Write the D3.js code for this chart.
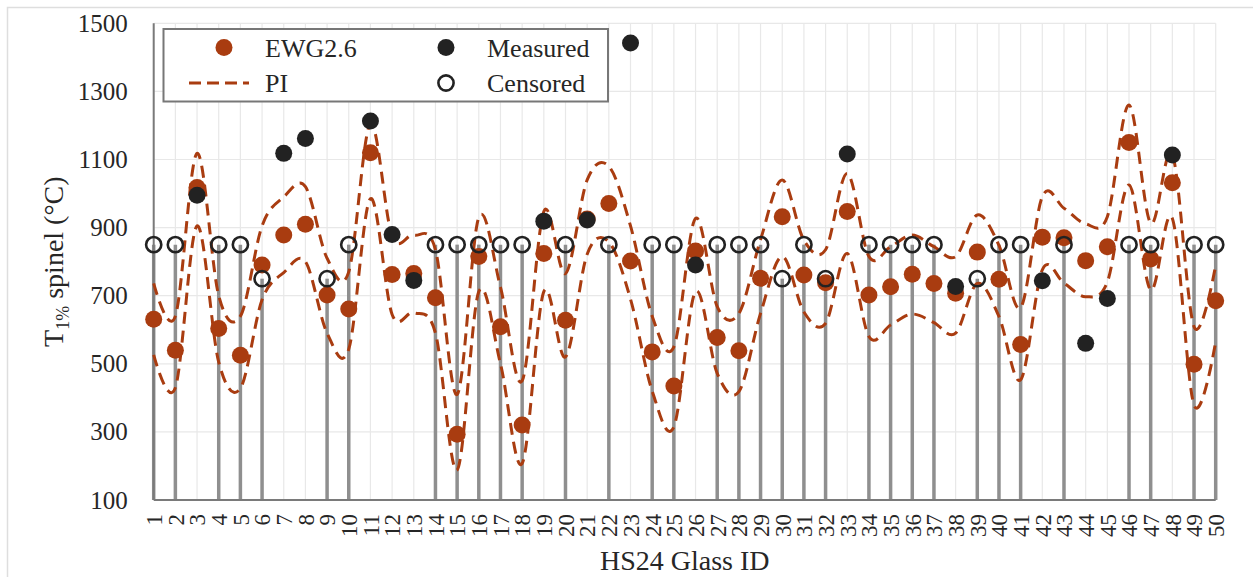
<!DOCTYPE html>
<html>
<head>
<meta charset="utf-8">
<script src="https://cdn.jsdelivr.net/npm/d3@7/dist/d3.min.js"></script>
<style>
  html, body { margin: 0; padding: 0; background: #fff; }
  svg { display: block; }
  text { font-family: "Liberation Serif", "Times New Roman", serif; fill: #262626; }
</style>
</head>
<body>
<svg id="chart" width="1253" height="577"></svg>
<script>
// HS24 glass IDs
const glassIds = d3.range(1, 51);

// EWG2.6 predicted T1% spinel (°C)
const ewgValues = [631, 540, 1018, 604, 525, 790, 878, 910, 702, 661,
                   1120, 762, 765, 694, 293, 815, 609, 320, 824, 628,
                   925, 971, 802, 535, 435, 831, 577, 538, 751, 932,
                   761, 738, 947, 702, 726, 763, 736, 707, 828, 748,
                   557, 872, 870, 803, 844, 1150, 808, 1032, 499, 685];

// prediction interval bounds
const piUpper = [736, 640, 1118, 700, 640, 905, 990, 1020, 810, 770,
                 1205, 875, 878, 835, 410, 930, 725, 450, 947, 765,
                 1040, 1080, 905, 640, 550, 927, 668, 648, 865, 1040,
                 863, 835, 1059, 815, 844, 878, 844, 815, 937, 848,
                 665, 991, 957, 911, 932, 1260, 913, 1115, 609, 790];
const piLower = [526, 430, 905, 505, 428, 688, 768, 800, 590, 543,
                 985, 645, 650, 590, 188, 712, 500, 207, 712, 520,
                 822, 858, 690, 420, 315, 712, 472, 418, 648, 815,
                 652, 619, 824, 580, 614, 646, 621, 590, 736, 639,
                 453, 776, 737, 697, 740, 1025, 717, 927, 379, 565];

// measured values
const measuredIds    = [3, 7, 8, 11, 12, 13, 19, 21, 23, 26, 33, 38, 42, 44, 45, 48];
const measuredValues = [995, 1118, 1162, 1213, 880, 745, 919, 922, 1442, 790, 1116, 727, 744, 560, 692, 1113];

// censored values (bar drawn from the axis floor up to the bound)
const censoredIds    = [1, 2, 4, 5, 6, 9, 10, 14, 15, 16, 17, 18, 20, 22, 24, 25, 27, 28, 29, 30,
                        31, 32, 34, 35, 36, 37, 39, 40, 41, 43, 46, 47, 49, 50];
const censoredValues = [850, 850, 850, 850, 750, 750, 850, 850, 850, 850, 850, 850, 850, 850, 850, 850, 850, 850, 850, 750,
                        850, 750, 850, 850, 850, 850, 750, 850, 850, 850, 850, 850, 850, 850];

const yTicks = [100, 300, 500, 700, 900, 1100, 1300, 1500];

const ORANGE = "#a93c10";
const DARK = "#222222";
const SERIF = '"Liberation Serif", "Times New Roman", serif';

const svg = d3.select("#chart");
const W = 1253, H = 577;
const plot = { left: 153.7, right: 1215.7, top: 23.3, bottom: 500 };

// outer chart-area frame
svg.append("rect")
  .attr("x", 7.5).attr("y", 7.5)
  .attr("width", W).attr("height", H)
  .attr("fill", "none").attr("stroke", "#dedede").attr("stroke-width", 1.5);

const x = d3.scalePoint().domain(glassIds).range([plot.left, plot.right]);
const y = d3.scaleLinear().domain([100, 1500]).range([plot.bottom, plot.top]);

// gridlines
const grid = svg.append("g").attr("stroke", "#e8e8e8").attr("stroke-width", 1.2);
grid.selectAll("line.h").data(yTicks).join("line")
  .attr("x1", plot.left).attr("x2", plot.right)
  .attr("y1", d => y(d)).attr("y2", d => y(d));
grid.selectAll("line.v").data(glassIds).join("line")
  .attr("x1", d => x(d)).attr("x2", d => x(d))
  .attr("y1", y(1500)).attr("y2", y(100));

// censored bars
const censored = censoredIds.map((id, i) => ({ id, v: censoredValues[i] }));
svg.append("g").selectAll("line").data(censored).join("line")
  .attr("x1", d => x(d.id)).attr("x2", d => x(d.id))
  .attr("y1", y(100)).attr("y2", d => y(d.v))
  .attr("stroke", "#8f8f8f").attr("stroke-width", 3.5);

// axes lines
svg.append("line")
  .attr("x1", plot.left).attr("x2", plot.left)
  .attr("y1", y(1500)).attr("y2", y(100))
  .attr("stroke", "#7a7a7a").attr("stroke-width", 2);
svg.append("line")
  .attr("x1", plot.left).attr("x2", plot.right)
  .attr("y1", y(100)).attr("y2", y(100))
  .attr("stroke", "#7a7a7a").attr("stroke-width", 2);

// y axis (labels only)
const yAxis = d3.axisLeft(y).tickValues(yTicks).tickFormat(d3.format("d")).tickSize(0).tickPadding(26);
const gy = svg.append("g").attr("transform", `translate(${plot.left},0)`).call(yAxis)
  .attr("font-family", SERIF).attr("font-size", 25);
gy.select(".domain").remove();
gy.selectAll("text").attr("fill", "#262626");

// x axis (rotated labels)
const xAxis = d3.axisBottom(x).tickSize(0).tickPadding(0);
const gx = svg.append("g").attr("transform", `translate(0,${plot.bottom})`).call(xAxis)
  .attr("font-family", SERIF).attr("font-size", 23);
gx.select(".domain").remove();
gx.selectAll("text")
  .attr("fill", "#262626")
  .attr("text-anchor", "end")
  .attr("transform", "rotate(-90)")
  .attr("x", -14).attr("y", 0).attr("dy", "0.34em");

// prediction interval curves
const line = d3.line()
  .x((d, i) => x(glassIds[i]))
  .y(d => y(d))
  .curve(d3.curveCatmullRom.alpha(0));
[piUpper, piLower].forEach(arr => {
  svg.append("path")
    .attr("d", line(arr))
    .attr("fill", "none").attr("stroke", ORANGE)
    .attr("stroke-width", 3).attr("stroke-dasharray", "12,7");
});

// EWG2.6 points
svg.append("g").selectAll("circle").data(ewgValues).join("circle")
  .attr("cx", (d, i) => x(glassIds[i])).attr("cy", d => y(d))
  .attr("r", 8.5).attr("fill", ORANGE);

// measured points
const measured = measuredIds.map((id, i) => ({ id, v: measuredValues[i] }));
svg.append("g").selectAll("circle").data(measured).join("circle")
  .attr("cx", d => x(d.id)).attr("cy", d => y(d.v))
  .attr("r", 8.5).attr("fill", DARK);

// censored points
svg.append("g").selectAll("circle").data(censored).join("circle")
  .attr("cx", d => x(d.id)).attr("cy", d => y(d.v))
  .attr("r", 7.6).attr("fill", "none").attr("stroke", DARK).attr("stroke-width", 2.6);

// axis titles
svg.append("text")
  .attr("x", (plot.left + plot.right) / 2).attr("y", 570)
  .attr("text-anchor", "middle").style("font-size", "28px")
  .text("HS24 Glass ID");

const yt = svg.append("text")
  .attr("transform", `translate(63,${(plot.top + plot.bottom) / 2}) rotate(-90)`)
  .attr("text-anchor", "middle").style("font-size", "28px");
yt.append("tspan").text("T");
yt.append("tspan").attr("dy", 6).style("font-size", "18px").text("1%");
yt.append("tspan").attr("dy", -6).text(" spinel (°C)");

// legend
const lg = svg.append("g");
lg.append("rect")
  .attr("x", 163.5).attr("y", 29).attr("width", 444.5).attr("height", 72.5)
  .attr("fill", "#fff").attr("stroke", "#777").attr("stroke-width", 2);
lg.append("circle").attr("cx", 224).attr("cy", 47.5).attr("r", 8.5).attr("fill", ORANGE);
lg.append("line").attr("x1", 189).attr("x2", 249).attr("y1", 83).attr("y2", 83)
  .attr("stroke", ORANGE).attr("stroke-width", 3).attr("stroke-dasharray", "12,6");
lg.append("circle").attr("cx", 446).attr("cy", 47.5).attr("r", 8.5).attr("fill", DARK);
lg.append("circle").attr("cx", 446).attr("cy", 83).attr("r", 7.6)
  .attr("fill", "none").attr("stroke", DARK).attr("stroke-width", 2.6);
const legendText = [["EWG2.6", 265, 57], ["PI", 265, 92], ["Measured", 487, 57], ["Censored", 487, 92]];
lg.selectAll("text.lt").data(legendText).join("text")
  .attr("x", d => d[1]).attr("y", d => d[2]).style("font-size", "26px")
  .text(d => d[0]);
</script>
</body>
</html>
